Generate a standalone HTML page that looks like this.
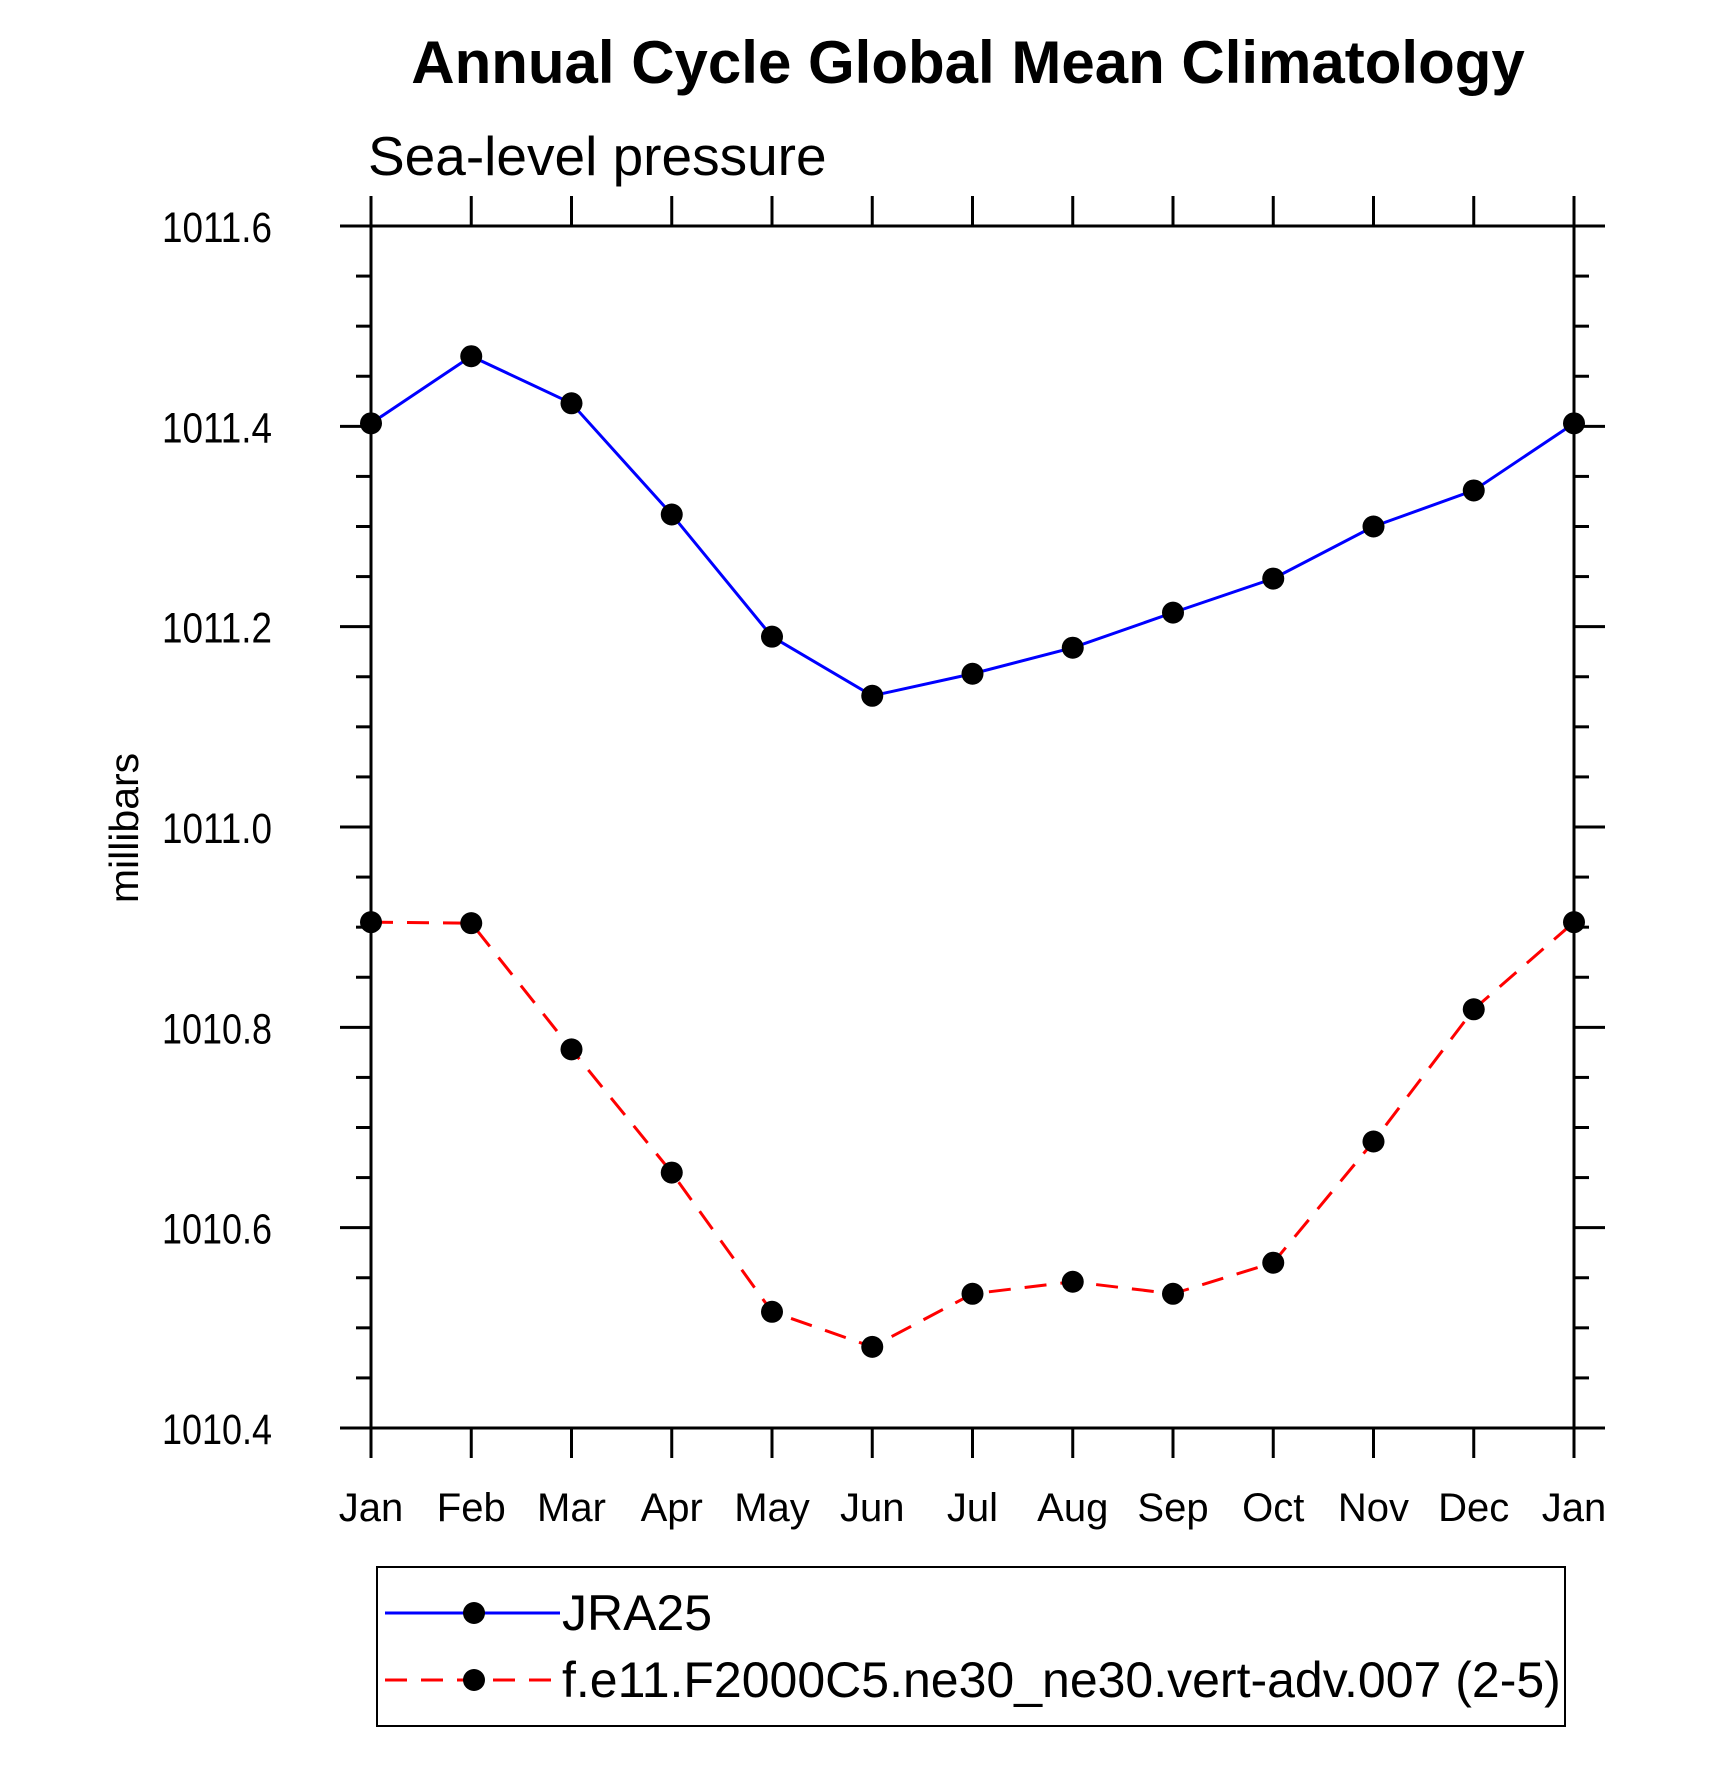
<!DOCTYPE html>
<html><head><meta charset="utf-8"><style>
body{margin:0;background:#fff}
svg{display:block;font-family:"Liberation Sans",sans-serif}
</style></head><body>
<svg id="chart" width="1710" height="1769" viewBox="0 0 1710 1769" xmlns="http://www.w3.org/2000/svg">
<text x="968" y="83" text-anchor="middle" font-size="60" font-weight="bold">Annual Cycle Global Mean Climatology</text>
<text x="368" y="175" font-size="55">Sea-level pressure</text>
<text transform="translate(138,828) rotate(-90)" text-anchor="middle" font-size="41">millibars</text>
<g id="axes"></g>
<g id="series"></g>
<rect x="377" y="1567" width="1188" height="159" fill="none" stroke="#000" stroke-width="2"/>
<g>
<line x1="385" y1="1613" x2="560" y2="1613" stroke="#00f" stroke-width="3"/>
<circle cx="474" cy="1613" r="11" fill="#000"/>
<text x="562" y="1630" font-size="50">JRA25</text>
</g>
<g>
<line x1="385" y1="1680" x2="560" y2="1680" stroke="#f00" stroke-width="3" stroke-dasharray="22,14"/>
<circle cx="474" cy="1680" r="11" fill="#000"/>
<text x="562" y="1697" font-size="50">f.e11.F2000C5.ne30_ne30.vert-adv.007 (2-5)</text>
</g>
</svg>
<script>
const months = ["Jan","Feb","Mar","Apr","May","Jun","Jul","Aug","Sep","Oct","Nov","Dec","Jan"];
const jra25 = [1011.403,1011.470,1011.423,1011.312,1011.190,1011.131,1011.153,1011.179,1011.214,1011.248,1011.300,1011.336,1011.403];
const model = [1010.905,1010.904,1010.778,1010.655,1010.516,1010.481,1010.534,1010.546,1010.534,1010.565,1010.686,1010.818,1010.905];
const yTicks = [1010.4,1010.6,1010.8,1011.0,1011.2,1011.4,1011.6];
const yTickLabels = ["1010.4","1010.6","1010.8","1011.0","1011.2","1011.4","1011.6"];

const NS="http://www.w3.org/2000/svg";
const L=371,R=1574,T=226,B=1428,ymin=1010.4,ymax=1011.6;
const xs=i=>L+(R-L)*i/(months.length-1);
const ys=v=>B-(v-ymin)/(ymax-ymin)*(B-T);
function mk(tag,attrs,parent){const e=document.createElementNS(NS,tag);for(const k in attrs)e.setAttribute(k,attrs[k]);parent.appendChild(e);return e;}
const ax=document.getElementById('axes');
const st={stroke:"#000","stroke-width":3};
const frame=mk('rect',{x:L,y:T,width:R-L,height:B-T,fill:"none",stroke:"#000","stroke-width":3},ax);


months.forEach((m,i)=>{
  const x=xs(i);
  mk('line',Object.assign({x1:x,y1:T,x2:x,y2:T-30},st),ax);
  mk('line',Object.assign({x1:x,y1:B,x2:x,y2:B+30},st),ax);
  const t=mk('text',{x:x,y:1521,"text-anchor":"middle","font-size":"40"},ax);
  t.textContent=m;
  
  
});
yTicks.forEach((v,i)=>{
  const y=ys(v);
  mk('line',Object.assign({x1:L,y1:y,x2:L-31,y2:y},st),ax);
  mk('line',Object.assign({x1:R,y1:y,x2:R+31,y2:y},st),ax);
  const t=mk('text',{x:162,y:y+16,"font-size":"43",textLength:"110",lengthAdjust:"spacingAndGlyphs"},ax);
  t.textContent=yTickLabels[i];
  
  
  if(i<yTicks.length-1){
    for(let k=1;k<4;k++){
      const yy=ys(v+(yTicks[i+1]-v)*k/4);
      mk('line',Object.assign({x1:L,y1:yy,x2:L-15,y2:yy},st),ax);
      mk('line',Object.assign({x1:R,y1:yy,x2:R+15,y2:yy},st),ax);
    }
  }
});
const sg=document.getElementById('series');
function series(data,color,dash,name){
  const g=mk('g',{},sg);
  
  
  const pts=data.map((v,i)=>xs(i)+","+ys(v)).join(" ");
  const a={points:pts,fill:"none",stroke:color,"stroke-width":3};
  if(dash)a["stroke-dasharray"]=dash;
  mk('polyline',a,g);
  data.forEach((v,i)=>{
    const c=mk('circle',{cx:xs(i),cy:ys(v),r:11,fill:"#000"},g);
    
    
  });
}
series(jra25,"#00f",null,"jra25-series");
series(model,"#f00","22,14","model-series");
</script>
</body></html>
